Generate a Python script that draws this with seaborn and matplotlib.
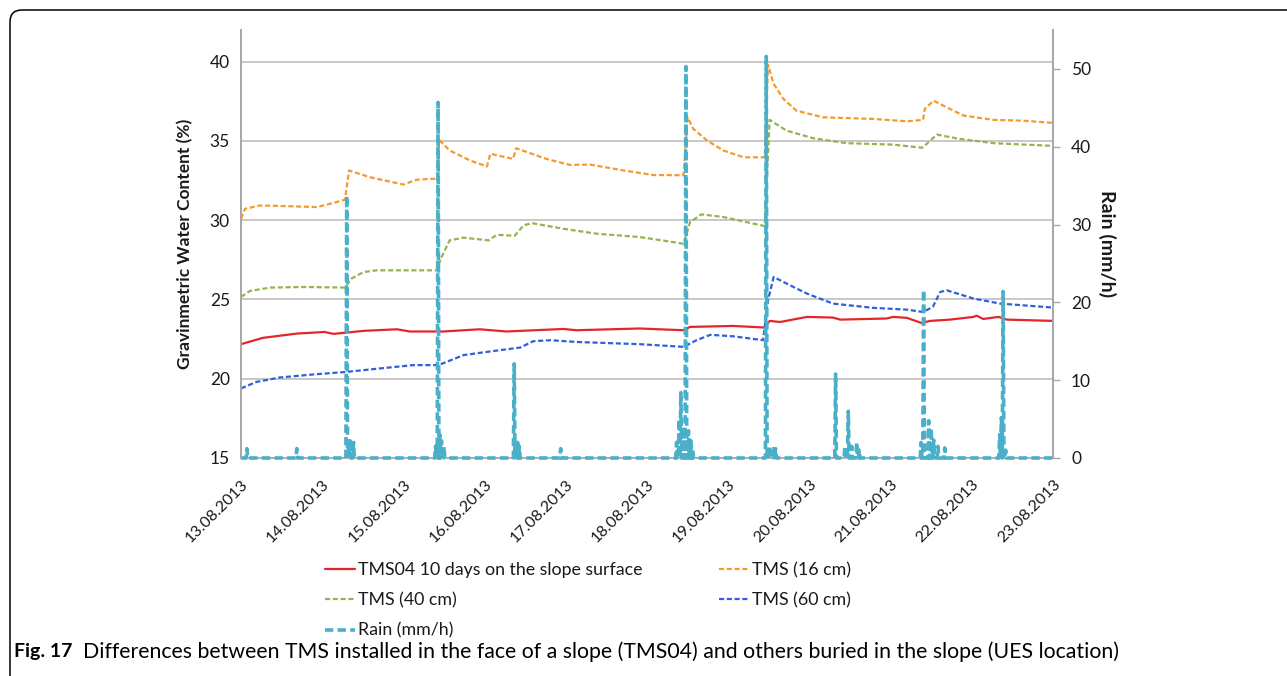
import numpy as np
import pandas as pd
import matplotlib
matplotlib.use("Agg")
import matplotlib.pyplot as plt
import seaborn as sns
from matplotlib.patches import FancyBboxPatch
from matplotlib.transforms import IdentityTransform

# ---------------- data (days since 13.08.2013 00:00) ----------------
date_labels = ["13.08.2013", "14.08.2013", "15.08.2013", "16.08.2013", "17.08.2013",
               "18.08.2013", "19.08.2013", "20.08.2013", "21.08.2013", "22.08.2013",
               "23.08.2013"]

# TMS04 10 days on the slope surface
t_s04 = [0.00, 0.27, 0.69, 1.03, 1.14, 1.51, 1.92, 2.08, 2.49, 2.94, 3.27, 3.97, 4.13,
         4.91, 5.45, 5.53, 6.06, 6.45, 6.51, 6.64, 6.97, 7.29, 7.38, 7.95, 8.03, 8.20,
         8.38, 8.49, 8.73, 9.02, 9.06, 9.14, 9.33, 9.43, 10.00]
v_s04 = [22.18, 22.58, 22.85, 22.95, 22.83, 23.02, 23.12, 22.98, 22.98, 23.12, 22.98,
         23.14, 23.06, 23.17, 23.06, 23.27, 23.33, 23.23, 23.65, 23.58, 23.90, 23.86,
         23.73, 23.80, 23.90, 23.84, 23.52, 23.65, 23.73, 23.90, 23.98, 23.77, 23.90,
         23.73, 23.65]

# TMS (16 cm)
t_16 = [0.00, 0.05, 0.23, 0.48, 0.93, 1.10, 1.28, 1.33, 1.59, 2.00, 2.16, 2.33, 2.42,
        2.44, 2.57, 2.82, 3.03, 3.07, 3.35, 3.39, 3.76, 4.05, 4.30, 4.71, 5.08, 5.45,
        5.50, 5.57, 5.74, 5.94, 6.19, 6.45, 6.49, 6.56, 6.68, 6.84, 7.17, 7.79, 8.20,
        8.40, 8.42, 8.53, 8.69, 8.90, 9.27, 9.63, 10.00]
v_16 = [30.09, 30.72, 30.93, 30.90, 30.83, 31.04, 31.29, 33.14, 32.71, 32.25, 32.55,
        32.61, 32.61, 35.07, 34.40, 33.77, 33.39, 34.19, 33.87, 34.54, 33.87, 33.49,
        33.51, 33.14, 32.85, 32.84, 36.49, 35.76, 35.03, 34.40, 33.97, 33.97, 39.81,
        38.60, 37.65, 36.91, 36.49, 36.39, 36.24, 36.33, 37.02, 37.54, 37.12, 36.60,
        36.33, 36.28, 36.14]

# TMS (40 cm)
t_40 = [0.00, 0.11, 0.36, 0.77, 1.28, 1.36, 1.51, 1.67, 2.41, 2.47, 2.57, 2.74, 3.05,
        3.15, 3.37, 3.48, 3.58, 3.97, 4.38, 4.91, 5.45, 5.53, 5.67, 5.94, 6.45, 6.51,
        6.72, 7.05, 7.46, 8.03, 8.39, 8.57, 8.85, 9.27, 10.00]
v_40 = [25.16, 25.54, 25.75, 25.79, 25.75, 26.32, 26.73, 26.84, 26.84, 27.68, 28.73,
        28.90, 28.73, 29.08, 29.02, 29.67, 29.82, 29.46, 29.15, 28.94, 28.52, 29.88,
        30.37, 30.20, 29.63, 36.33, 35.65, 35.17, 34.86, 34.77, 34.57, 35.40, 35.13,
        34.86, 34.69]

# TMS (60 cm)
t_60 = [0.00, 0.19, 0.48, 0.89, 1.30, 1.71, 2.12, 2.43, 2.53, 2.74, 2.98, 3.44, 3.60,
        3.81, 4.13, 4.91, 5.45, 5.61, 5.78, 6.06, 6.43, 6.49, 6.56, 6.72, 6.97, 7.29,
        7.79, 8.20, 8.40, 8.52, 8.61, 8.69, 9.02, 9.35, 10.00]
v_60 = [19.39, 19.80, 20.08, 20.27, 20.43, 20.65, 20.86, 20.86, 21.06, 21.49, 21.66,
        21.97, 22.37, 22.43, 22.32, 22.18, 22.01, 22.43, 22.77, 22.68, 22.43, 24.95,
        26.42, 26.00, 25.37, 24.74, 24.47, 24.36, 24.21, 24.53, 25.47, 25.58, 25.06,
        24.74, 24.49]

# Rain (mm/h), 15-minute records; records not listed had no rain
rain_steps = [7, 66,
              125, 126, 127, 129, 131, 133,
              230, 233, 235, 237, 240,
              323, 325, 327, 329,
              378,
              515, 518, 520, 523, 526, 529, 532, 534,
              621, 625, 630, 632,
              703, 714, 718, 722, 728, 731,
              804, 807, 813, 816, 819, 824, 832,
              897, 899, 901, 904]
rain_mmh = [1.2, 1.2,
            33.7, 1.0, 2.0, 2.2, 1.5, 2.0,
            1.5, 45.7, 3.0, 2.2, 1.5,
            12.1, 1.8, 2.0, 1.5,
            1.2,
            2.0, 5.0, 8.4, 4.0, 50.3, 3.5, 2.2, 1.0,
            51.6, 1.5, 1.5, 1.2,
            10.8, 1.5, 6.0, 1.5, 2.0, 1.0,
            2.0, 21.6, 4.8, 3.8, 2.3, 1.5, 1.3,
            3.0, 5.2, 21.4, 1.0]

n_steps = 960  # 10 days x 96 quarter hours
rain = np.zeros(n_steps + 1)
rain[rain_steps] = rain_mmh
rain_df = pd.DataFrame({"day": np.arange(n_steps + 1) / 96.0, "rain": rain})

# ---------------- style ----------------
sns.set_theme(style="white")
plt.rcParams["font.family"] = ["Lato", "DejaVu Sans"]

c_red = "#E4262C"
c_orange = "#F59A2E"
c_green = "#93B550"
c_blue = "#2F5FDB"
c_rain = "#4AAFC8"
c_grid = "#BFBFBF"
c_spine = "#A6A6A6"
c_text = "#1a1a1a"

fig = plt.figure(figsize=(12.87, 6.76), dpi=100)
ax = fig.add_axes([241 / 1287, 1 - 458 / 676, (1053 - 241) / 1287, (458 - 30) / 676])
ax2 = ax.twinx()

sns.lineplot(x=t_s04, y=v_s04, ax=ax, color=c_red, lw=1.6, sort=False,
             estimator=None, label="TMS04 10 days on the slope surface", legend=False)
sns.lineplot(x=t_16, y=v_16, ax=ax, color=c_orange, lw=1.6, sort=False,
             estimator=None, label="TMS (16 cm)", legend=False)
sns.lineplot(x=t_40, y=v_40, ax=ax, color=c_green, lw=1.6, sort=False,
             estimator=None, label="TMS (40 cm)", legend=False)
sns.lineplot(x=t_60, y=v_60, ax=ax, color=c_blue, lw=1.6, sort=False,
             estimator=None, label="TMS (60 cm)", legend=False)
for ln in ax.lines[1:]:
    ln.set_dashes((2.3, 1.2))

sns.lineplot(data=rain_df, x="day", y="rain", ax=ax2, color=c_rain, lw=2.6,
             sort=False, estimator=None, label="Rain (mm/h)", legend=False)
ax2.lines[0].set_dashes((2.3, 1.2))
ax2.lines[0].set_clip_on(False)

# axes settings
ax.set_xlim(0, 10)
ax.set_ylim(15, 42)
ax2.set_ylim(0, 55)
ax.set_yticks([15, 20, 25, 30, 35, 40])
ax2.set_yticks([0, 10, 20, 30, 40, 50])
ax.set_xticks(range(11))
ax.set_xticklabels(date_labels, rotation=45, ha="right", va="top",
                   rotation_mode="anchor", fontsize=11.5, color=c_text)
ax.tick_params(axis="x", length=0, pad=14)
ax.tick_params(axis="y", length=0, pad=8, labelsize=12.5, labelcolor=c_text)
ax2.tick_params(axis="y", length=5, width=1, color=c_spine, pad=8,
                labelsize=12.5, labelcolor=c_text, direction="out")
ax.yaxis.grid(True, color=c_grid, lw=1.2)
ax.xaxis.grid(False)
ax.set_axisbelow(True)

for a in (ax, ax2):
    a.spines["top"].set_visible(False)
    for s in ("left", "right", "bottom"):
        a.spines[s].set_color(c_spine)
        a.spines[s].set_linewidth(1.2)
ax2.spines["bottom"].set_visible(False)

ax.set_xlabel("")
ax.set_ylabel("Gravinmetric Water Content (%)", fontsize=12.5, fontweight="bold",
              color=c_text, labelpad=12)
ax2.set_ylabel("Rain (mm/h)", fontsize=14, fontweight="bold", color=c_text,
               rotation=-90, labelpad=18)

# legend (row-major order as in the reference)
h1, l1 = ax.get_legend_handles_labels()
h2, l2 = ax2.get_legend_handles_labels()
H = dict(zip(l1 + l2, h1 + h2))
order = ["TMS04 10 days on the slope surface", "TMS (40 cm)", "Rain (mm/h)",
         "TMS (16 cm)", "TMS (60 cm)"]
leg = fig.legend([H[k] for k in order], order, ncol=2, frameon=False,
                 loc="upper left", bbox_to_anchor=(309 / 1287, 1 - 546 / 676),
                 fontsize=12.8, handlelength=1.7, handletextpad=0.15,
                 columnspacing=4.3, labelspacing=0.8)
for t in leg.get_texts():
    t.set_color(c_text)

# caption
fig.text(14 / 1287, 1 - 652 / 676, "Fig. 17", fontsize=14, fontweight="bold",
         va="center", ha="left", color="black")
fig.text(83 / 1287, 1 - 652 / 676,
         "Differences between TMS installed in the face of a slope (TMS04) and others buried in the slope (UES location)",
         fontsize=15.3, va="center", ha="left", color="black")

# figure border (rounded top-left corner)
border = FancyBboxPatch((10, -40), 1400, 706, boxstyle="round,pad=0,rounding_size=12",
                        transform=IdentityTransform(), fill=False, edgecolor="black",
                        linewidth=1.1, clip_on=False)
fig.patches.append(border)

fig.savefig("out.png", dpi=100)
